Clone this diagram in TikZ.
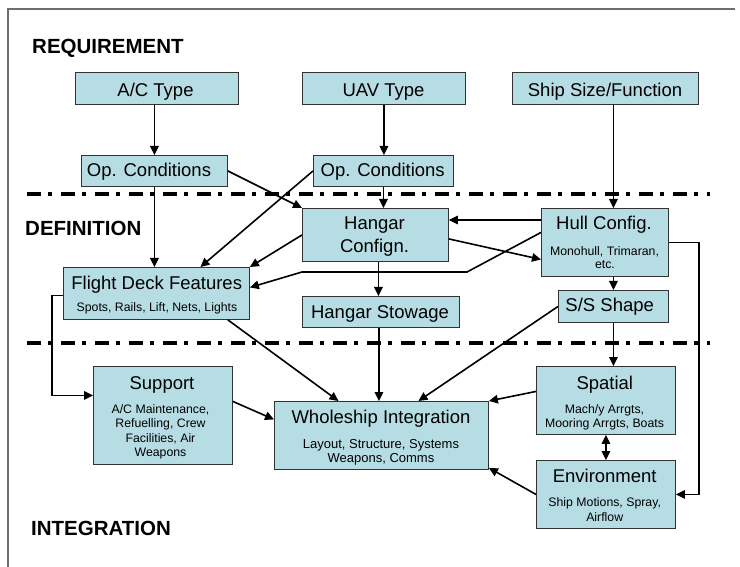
\documentclass[tikz,border=0pt]{standalone}
\usepackage{fontspec}
\setmainfont{Liberation Sans}
\usetikzlibrary{arrows.meta}
\definecolor{boxfill}{RGB}{183,221,228}
\definecolor{boxline}{RGB}{50,50,50}
\definecolor{framegray}{RGB}{110,110,110}
\begin{document}
\begin{tikzpicture}[x=1pt,y=-1pt,
  box/.style={draw=boxline, fill=boxfill, line width=0.9pt, inner sep=0pt, anchor=north west},
  title/.style={anchor=base, inner sep=0pt, font=\fontsize{18.5}{22}\selectfont},
  sub/.style={anchor=base, inner sep=0pt, font=\fontsize{12.3}{14}\selectfont},
  subw/.style={anchor=base, inner sep=0pt, font=\fontsize{13}{15}\selectfont},
  phase/.style={anchor=base west, inner sep=0pt, font=\fontsize{20.5}{24}\selectfont\bfseries},
  arr/.style={line width=1.6pt, -{Triangle[length=9pt,width=8.5pt]}},
  arrd/.style={line width=1.6pt, {Triangle[length=9pt,width=8.5pt]}-{Triangle[length=9pt,width=8.5pt]}},
  sepline/.style={line width=3.8pt, dash pattern=on 14pt off 7pt on 4pt off 9pt}]
\useasboundingbox (0,0) rectangle (740,567);
\fill[white] (0,0) rectangle (740,567);
% frame
\draw[framegray, line width=1.2pt] (735,9) -- (8,9) -- (8,567);
% phase separators
\draw[sepline] (27,194) -- (710,194);
\draw[sepline] (27,343) -- (710,343);
% phase labels
\node[phase] (req) at (32,53.3) {REQUIREMENT};
\node[phase] (def) at (25,236) {DEFINITION};
\node[phase] (intg) at (31,535.7) {INTEGRATION};
% boxes
\node[box, minimum width=163pt, minimum height=32pt] (acType) at (75,72) {};
\node[box, minimum width=163pt, minimum height=32pt] (uavType) at (302,72) {};
\node[box, minimum width=186pt, minimum height=32pt] (shipSize) at (512,72) {};
\node[box, minimum width=146pt, minimum height=31pt] (opL) at (81,155) {};
\node[box, minimum width=140pt, minimum height=31pt] (opM) at (313,155) {};
\node[box, minimum width=146pt, minimum height=53pt] (hangarCfg) at (302,208) {};
\node[box, minimum width=127pt, minimum height=68pt] (hullCfg) at (541,208) {};
\node[box, minimum width=186pt, minimum height=52pt] (fdf) at (63,267) {};
\node[box, minimum width=157pt, minimum height=31pt] (stowage) at (302,296) {};
\node[box, minimum width=110pt, minimum height=32pt] (ssShape) at (558,290) {};
\node[box, minimum width=139pt, minimum height=98pt] (support) at (93,366) {};
\node[box, minimum width=214pt, minimum height=68pt] (whole) at (274,401) {};
\node[box, minimum width=139pt, minimum height=68pt] (spatial) at (536,366) {};
\node[box, minimum width=139pt, minimum height=68pt] (env) at (536,460) {};
% box texts
\node[title] (acType-t) at (155.5,96.7) {A/C Type};
\node[title] (uavType-t) at (383.5,96.7) {UAV Type};
\node[title] (shipSize-t) at (605,96.7) {Ship Size/Function};
\node[title] (opL-t) at (149,177) {Op. Conditions};
\node[title] (opM-t) at (382.7,176.7) {Op. Conditions};
\node[title] (hangarCfg-t1) at (374.5,230) {Hangar};
\node[title] (hangarCfg-t2) at (374.5,252.7) {Confign.};
\node[title] (hullCfg-t) at (604,230) {Hull Config.};
\node[sub] (hullCfg-s1) at (604.5,255) {Monohull, Trimaran,};
\node[sub] (hullCfg-s2) at (605,268.3) {etc.};
\node[title] (fdf-t) at (156.7,289.3) {Flight Deck Features};
\node[sub] (fdf-s) at (157,311.7) {Spots, Rails, Lift, Nets, Lights};
\node[title] (stowage-t) at (380,318.3) {Hangar Stowage};
\node[title] (ssShape-t) at (609.7,311.7) {S/S Shape};
\node[title] (support-t) at (162,389.3) {Support};
\node[sub] (support-s1) at (160.5,413.3) {A/C Maintenance,};
\node[sub] (support-s2) at (160.5,427.7) {Refuelling, Crew};
\node[sub] (support-s3) at (160.5,442.3) {Facilities, Air};
\node[sub] (support-s4) at (160.5,456.7) {Weapons};
\node[title] (whole-t) at (381,423.3) {Wholeship Integration};
\node[subw] (whole-s1) at (381,448.3) {Layout, Structure, Systems};
\node[subw] (whole-s2) at (381,462.7) {Weapons, Comms};
\node[title] (spatial-t) at (604.8,389.3) {Spatial};
\node[sub] (spatial-s1) at (604.5,413.3) {Mach/y Arrgts,};
\node[sub] (spatial-s2) at (604.5,427.7) {Mooring Arrgts, Boats};
\node[title] (env-t) at (604.7,482.7) {Environment};
\node[sub] (env-s1) at (604.7,506.7) {Ship Motions, Spray,};
\node[sub] (env-s2) at (604.7,521) {Airflow};
% connectors
\draw[arr] (opL.north |- acType.south) -- (opL.north);
\draw[arr] (uavType.south) -- (uavType.south |- opM.north);
\draw[arr] (ssShape.north |- shipSize.south) -- (ssShape.north |- hullCfg.north);
\draw[arr] (opL.south) -- (opL.south |- fdf.north);
\draw[arr] (opL.east) -- (hangarCfg.north west);
\draw[arr] (opM.west) -- ([xshift=44pt]fdf.north);
\draw[arr] (opM.south) -- (opM.south |- hangarCfg.north);
\draw[arr] (hangarCfg.west) -- (fdf.north east);
\draw[arr] ([yshift=-12pt]hullCfg.north west) -- ([yshift=-12pt]hullCfg.north west -| hangarCfg.east);
\draw[arr] ([yshift=-4pt]hangarCfg.east) -- ([yshift=-17pt]hullCfg.west);
\draw[arr] ([yshift=10pt]hullCfg.west) -- (467,272) -- (302,272) -- ([yshift=6pt]fdf.east);
\draw[arr] ([xshift=3pt]hangarCfg.south) -- ([xshift=3pt]hangarCfg.south |- stowage.north);
\draw[arr] (ssShape.north |- hullCfg.south) -- (ssShape.north);
\draw[arr] (hullCfg.east) -- ++(30,0) |- (env.east);
\draw[arr] (ssShape.west) -- ([xshift=37pt]whole.north);
\draw[arr] (ssShape.south) -- (ssShape.south |- spatial.north);
\draw[arr] ([xshift=-22pt]fdf.south east) -- ([xshift=-43pt]whole.north);
\draw[arr] ([xshift=-2pt]stowage.south) -- ([xshift=-2pt]stowage.south |- whole.north);
\draw[arr] ([yshift=-2pt]fdf.west) -- ++(-11,0) |- ([yshift=20pt]support.west);
\draw[arr] ([yshift=14pt]support.east) -- ([yshift=16pt]whole.west);
\draw[arr] ([yshift=9pt]spatial.west) -- (whole.north east);
\draw[arrd] (spatial.south) -- (env.north);
\draw[arr] (env.west) -- ([yshift=2pt]whole.south east);
\end{tikzpicture}
\end{document}
